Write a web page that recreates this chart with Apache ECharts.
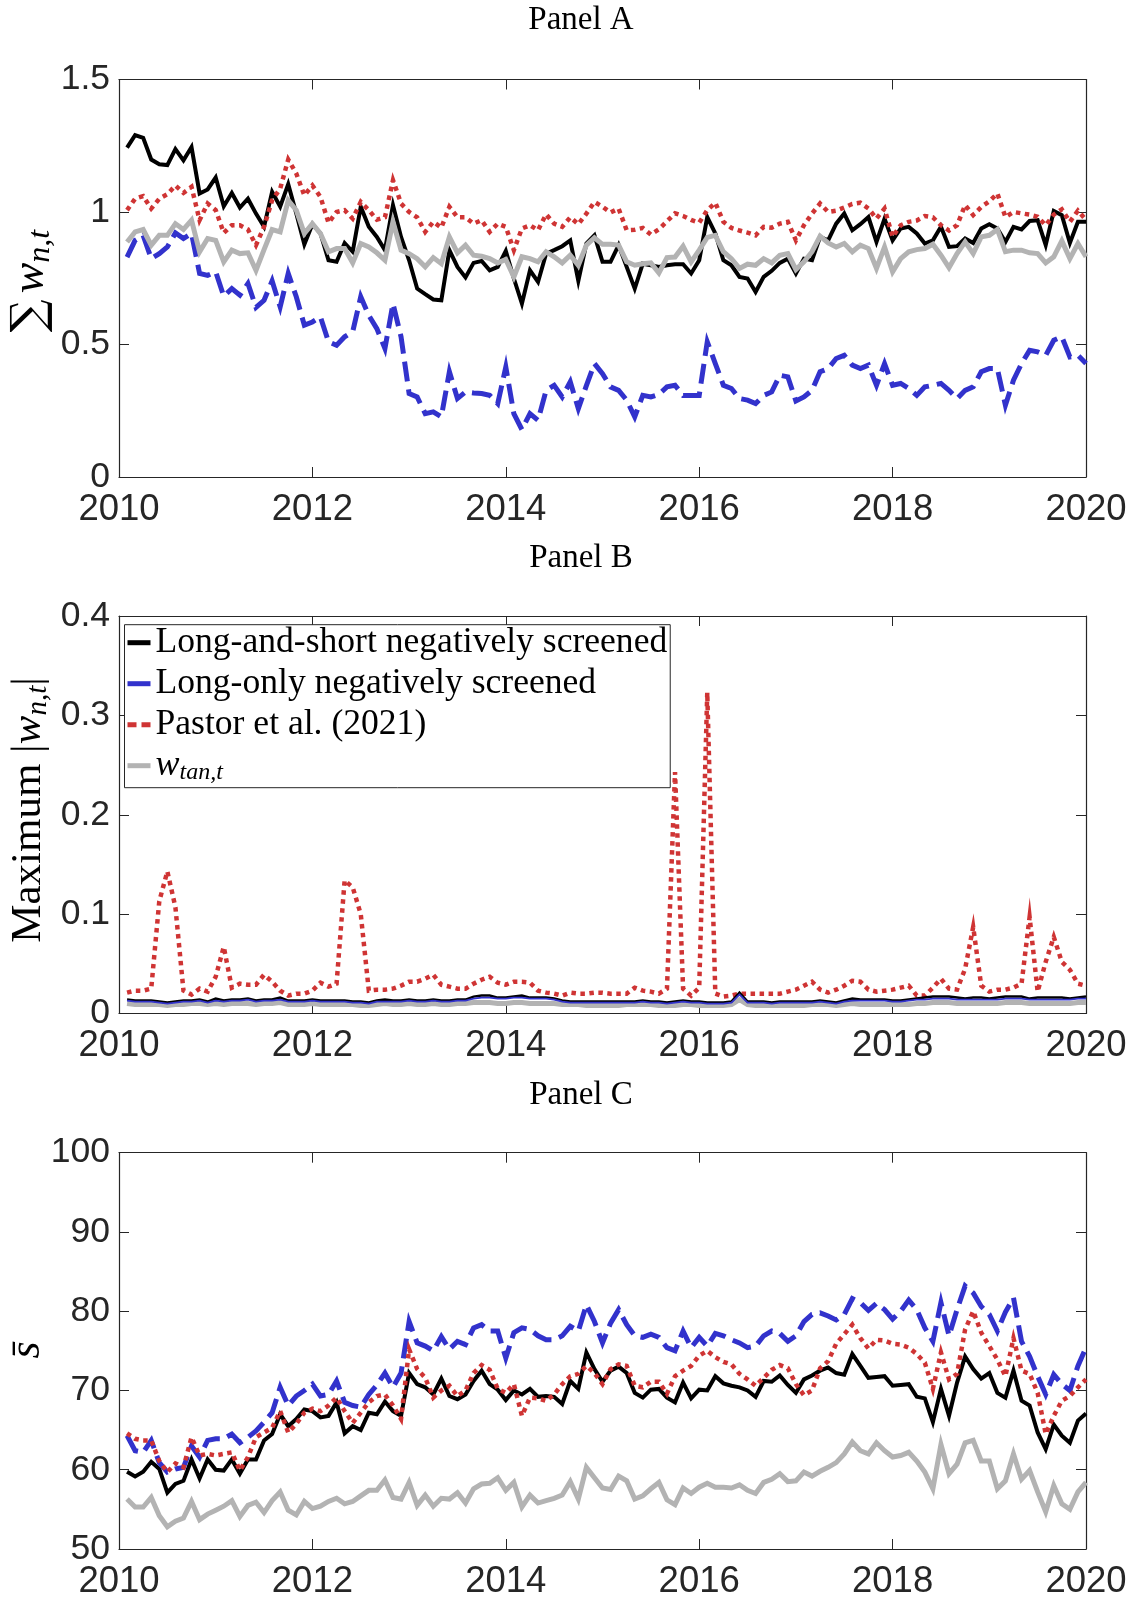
<!DOCTYPE html>
<html><head><meta charset="utf-8">
<script src="https://cdn.jsdelivr.net/npm/echarts@6/dist/echarts.min.js"></script>
<style>html,body{margin:0;padding:0;background:#fff}#c{width:1133px;height:1600px}</style>
</head><body><div id="c"></div>
<script>
// ---------- data (monthly, 2010 -> 2020) ----------
const startYear = 2010;
const seriesNames = ['Long-and-short negatively screened','Long-only negatively screened','Pastor et al. (2021)','w_tan,t'];
const panelTitles = ['Panel A','Panel B','Panel C'];
const xTickValues = [2010, 2012, 2014, 2016, 2018, 2020];

// Panel A: sum of weights
const aBlack = [1.243,1.29,1.28,1.198,1.18,1.177,1.237,1.195,1.245,1.07,
1.085,1.13,1.022,1.072,1.017,1.05,0.994,0.944,1.076,1.02,
1.105,0.994,0.878,0.954,0.919,0.818,0.812,0.883,0.85,1.02,
0.944,0.906,0.856,1.026,0.906,0.818,0.711,0.69,0.67,0.667,
0.856,0.793,0.753,0.808,0.815,0.78,0.793,0.853,0.749,0.654,
0.78,0.736,0.843,0.856,0.871,0.893,0.74,0.881,0.912,0.812,
0.812,0.875,0.793,0.711,0.805,0.799,0.793,0.799,0.803,0.803,
0.768,0.818,0.981,0.919,0.818,0.799,0.755,0.749,0.698,0.755,
0.778,0.808,0.824,0.768,0.824,0.818,0.906,0.893,0.956,0.994,
0.931,0.954,0.981,0.887,0.975,0.893,0.938,0.944,0.919,0.881,
0.893,0.944,0.868,0.871,0.9,0.883,0.938,0.954,0.938,0.887,
0.944,0.934,0.966,0.969,0.875,1.004,0.988,0.883,0.963,0.963];
const aBlue = [0.83,0.893,0.912,0.824,0.843,0.868,0.921,0.9,0.919,0.768,
0.761,0.774,0.682,0.711,0.686,0.73,0.64,0.667,0.74,0.642,
0.768,0.68,0.573,0.585,0.604,0.51,0.497,0.529,0.548,0.68,
0.61,0.56,0.485,0.654,0.529,0.315,0.302,0.239,0.246,0.227,
0.397,0.296,0.321,0.317,0.315,0.308,0.277,0.415,0.239,0.179,
0.239,0.214,0.327,0.346,0.302,0.359,0.258,0.345,0.428,0.39,
0.34,0.327,0.29,0.227,0.308,0.302,0.312,0.34,0.346,0.308,
0.308,0.308,0.51,0.428,0.346,0.334,0.296,0.29,0.277,0.308,
0.321,0.384,0.378,0.287,0.302,0.327,0.397,0.409,0.447,0.459,
0.422,0.409,0.422,0.346,0.428,0.346,0.353,0.334,0.308,0.34,
0.346,0.353,0.327,0.296,0.327,0.34,0.397,0.409,0.409,0.271,
0.365,0.428,0.478,0.472,0.459,0.516,0.529,0.453,0.459,0.428];
const aRed = [1.007,1.05,1.06,1.013,1.05,1.067,1.1,1.072,1.095,0.969,
1.032,1.007,0.921,0.95,0.95,0.934,0.875,0.944,1.044,1.088,
1.198,1.145,1.063,1.1,1.057,0.959,1.0,1.007,0.975,1.038,
1.007,0.971,0.98,1.12,1.032,1.0,0.98,0.925,0.963,0.941,
1.02,0.98,0.98,0.956,0.969,0.925,0.956,0.944,0.856,0.938,
0.95,0.931,0.991,0.956,0.944,0.98,0.954,0.994,1.038,1.02,
0.998,1.013,0.931,0.933,0.94,0.915,0.935,0.965,0.995,0.985,
0.97,0.96,1.007,1.035,0.963,0.94,0.93,0.922,0.912,0.944,
0.941,0.956,0.963,0.893,0.95,0.994,1.032,1.0,1.005,1.017,
1.03,1.035,1.013,0.975,1.013,0.906,0.95,0.963,0.968,0.985,
0.98,0.95,0.93,0.95,1.026,0.988,1.019,1.04,1.07,0.981,
1.0,0.995,0.99,0.982,0.95,0.99,1.01,0.963,1.005,0.97];
const aGray = [0.887,0.925,0.934,0.875,0.912,0.912,0.956,0.934,0.969,0.85,
0.9,0.893,0.812,0.856,0.843,0.846,0.78,0.858,0.934,0.925,
1.044,1.007,0.919,0.956,0.919,0.85,0.862,0.862,0.808,0.881,
0.868,0.846,0.818,0.963,0.856,0.843,0.824,0.793,0.828,0.805,
0.906,0.846,0.875,0.837,0.833,0.824,0.808,0.821,0.755,0.831,
0.824,0.812,0.85,0.831,0.808,0.837,0.799,0.875,0.903,0.878,
0.878,0.875,0.812,0.799,0.805,0.808,0.77,0.828,0.83,0.871,
0.812,0.856,0.904,0.912,0.85,0.824,0.787,0.803,0.799,0.824,
0.808,0.837,0.843,0.783,0.812,0.85,0.909,0.883,0.868,0.881,
0.85,0.875,0.862,0.787,0.868,0.774,0.824,0.85,0.858,0.862,
0.878,0.837,0.79,0.843,0.887,0.843,0.906,0.912,0.934,0.85,
0.856,0.856,0.846,0.843,0.808,0.831,0.891,0.824,0.881,0.831];

// Panel B: maximum absolute weight
const bBlack = [0.014,0.013,0.013,0.013,0.012,0.011,0.012,0.013,0.013,0.014,
0.012,0.015,0.013,0.014,0.014,0.015,0.013,0.014,0.014,0.016,
0.013,0.013,0.013,0.014,0.013,0.013,0.013,0.013,0.012,0.012,
0.011,0.013,0.014,0.013,0.013,0.014,0.013,0.013,0.014,0.013,
0.013,0.014,0.014,0.017,0.018,0.018,0.016,0.016,0.017,0.018,
0.016,0.016,0.016,0.015,0.013,0.012,0.012,0.012,0.012,0.012,
0.012,0.012,0.012,0.012,0.013,0.012,0.012,0.011,0.012,0.013,
0.012,0.012,0.011,0.011,0.011,0.012,0.021,0.012,0.012,0.012,
0.011,0.012,0.012,0.012,0.012,0.012,0.013,0.012,0.011,0.013,
0.015,0.014,0.014,0.014,0.014,0.013,0.013,0.014,0.015,0.016,
0.017,0.017,0.017,0.016,0.015,0.016,0.016,0.015,0.016,0.017,
0.017,0.017,0.015,0.016,0.016,0.016,0.016,0.015,0.016,0.017];
const bBlue = [0.013,0.012,0.012,0.012,0.011,0.010,0.011,0.012,0.012,0.013,
0.011,0.013,0.012,0.013,0.013,0.014,0.012,0.013,0.013,0.014,
0.012,0.012,0.012,0.013,0.012,0.012,0.012,0.012,0.011,0.011,
0.010,0.012,0.012,0.012,0.012,0.013,0.012,0.012,0.013,0.012,
0.012,0.013,0.013,0.015,0.016,0.016,0.015,0.015,0.016,0.016,
0.015,0.015,0.015,0.014,0.012,0.011,0.011,0.011,0.011,0.011,
0.011,0.011,0.011,0.011,0.012,0.011,0.011,0.010,0.011,0.012,
0.011,0.011,0.010,0.010,0.010,0.011,0.019,0.011,0.011,0.011,
0.010,0.011,0.011,0.011,0.011,0.011,0.012,0.011,0.010,0.012,
0.013,0.013,0.013,0.013,0.013,0.012,0.012,0.013,0.014,0.014,
0.015,0.015,0.015,0.014,0.014,0.014,0.014,0.014,0.014,0.015,
0.015,0.015,0.014,0.014,0.014,0.014,0.014,0.014,0.015,0.015];
const bRed = [0.021,0.023,0.023,0.025,0.113,0.143,0.107,0.023,0.019,0.025,
0.022,0.037,0.067,0.026,0.03,0.029,0.029,0.039,0.032,0.023,
0.018,0.02,0.02,0.023,0.031,0.027,0.03,0.134,0.127,0.1,
0.023,0.024,0.024,0.025,0.028,0.032,0.032,0.035,0.039,0.029,
0.027,0.025,0.025,0.03,0.034,0.037,0.031,0.029,0.032,0.032,
0.031,0.023,0.021,0.02,0.018,0.021,0.02,0.02,0.021,0.021,
0.02,0.02,0.02,0.026,0.023,0.022,0.02,0.025,0.243,0.025,
0.018,0.026,0.323,0.02,0.017,0.018,0.02,0.02,0.02,0.02,
0.02,0.02,0.022,0.024,0.028,0.032,0.024,0.021,0.024,0.028,
0.033,0.032,0.024,0.022,0.023,0.024,0.026,0.028,0.018,0.018,
0.026,0.035,0.025,0.024,0.045,0.087,0.028,0.022,0.024,0.024,
0.026,0.03,0.097,0.022,0.052,0.077,0.052,0.044,0.03,0.028];
const bGray = [0.010,0.009,0.009,0.009,0.009,0.008,0.009,0.009,0.010,0.010,
0.009,0.010,0.009,0.010,0.010,0.010,0.009,0.010,0.010,0.011,
0.009,0.009,0.009,0.010,0.009,0.009,0.009,0.009,0.009,0.008,
0.008,0.009,0.010,0.009,0.009,0.010,0.009,0.009,0.010,0.009,
0.009,0.010,0.010,0.011,0.011,0.011,0.010,0.010,0.011,0.011,
0.010,0.010,0.010,0.010,0.009,0.009,0.009,0.008,0.008,0.008,
0.008,0.008,0.009,0.009,0.009,0.009,0.008,0.008,0.008,0.009,
0.009,0.008,0.008,0.008,0.008,0.009,0.014,0.009,0.008,0.008,
0.008,0.008,0.008,0.008,0.008,0.009,0.009,0.009,0.008,0.009,
0.010,0.009,0.009,0.009,0.009,0.009,0.009,0.009,0.010,0.010,
0.011,0.011,0.011,0.010,0.010,0.010,0.010,0.010,0.010,0.011,
0.011,0.011,0.010,0.010,0.010,0.010,0.010,0.010,0.011,0.011];

// Panel C: average score s-bar
const cBlack = [59.75,59.16,59.75,61.0,60.1,57.1,58.2,58.6,61.3,58.9,
61.3,60.0,59.9,61.3,59.5,61.3,61.3,63.7,64.5,67.0,
65.5,66.4,67.6,67.4,66.6,66.8,68.5,64.6,65.5,65.0,
67.2,67.0,68.6,67.4,66.8,72.2,70.8,70.4,69.5,71.5,
69.3,68.9,69.5,71.2,72.5,70.8,70.1,68.8,70.0,69.5,
70.2,69.2,69.3,69.2,68.3,71.2,70.2,74.8,72.7,71.1,
72.5,73.0,72.2,69.7,69.1,70.1,70.2,69.1,68.5,71.0,
69.0,70.1,70.0,71.8,70.9,70.6,70.4,70.0,69.2,71.2,
71.1,71.9,70.7,69.7,71.4,71.9,72.5,72.9,72.2,72.0,
74.6,73.1,71.6,71.7,71.8,70.6,70.7,70.8,69.2,69.0,
66.0,70.2,66.8,71.0,74.3,72.7,71.5,72.2,69.7,69.1,
72.5,68.7,68.1,64.7,62.6,65.7,64.3,63.4,66.2,67.1];
const cBlue = [64.3,62.4,62.2,63.7,60.9,59.7,60.1,60.3,63.0,61.6,
63.7,63.9,63.9,64.5,63.4,64.1,64.9,66.0,67.2,70.4,
68.1,69.3,70.0,70.8,69.3,69.5,71.2,68.5,68.1,67.9,
69.5,70.7,72.2,70.4,72.2,78.7,76.0,75.6,75.0,76.8,
75.2,76.2,75.8,77.9,78.3,77.5,77.5,74.1,77.3,77.9,
77.7,76.9,76.4,76.4,76.9,78.1,77.5,80.8,78.7,76.0,
78.5,80.2,78.3,76.9,76.7,77.1,76.7,75.4,75.0,77.5,
75.4,76.7,75.6,77.2,76.9,76.4,76.0,75.4,75.6,76.9,
77.5,77.2,76.2,76.9,78.7,79.6,79.8,79.4,78.9,79.6,
81.6,81.1,80.1,81.0,80.2,79.0,80.0,81.4,80.2,77.9,
76.2,81.1,76.9,80.2,83.2,82.3,80.6,79.6,77.5,79.9,
81.7,76.2,74.3,71.8,69.5,72.0,70.8,70.0,73.1,75.4];
const cRed = [64.6,63.9,63.7,63.7,61.1,59.7,60.8,60.3,64.1,61.8,
62.0,61.8,62.0,62.2,59.9,61.6,64.1,64.7,65.3,67.4,
64.7,65.8,67.2,67.7,67.4,68.1,69.1,67.4,65.9,67.2,
68.5,69.3,69.5,68.1,66.4,75.2,72.7,71.6,69.1,70.0,
70.6,69.3,70.0,72.2,73.2,72.6,70.2,69.7,70.8,66.8,
69.1,69.0,68.7,69.5,70.8,71.8,72.1,73.1,72.2,70.8,
72.7,73.3,73.1,70.6,70.4,71.1,71.1,69.6,71.8,72.5,
73.1,74.4,75.0,74.2,73.6,73.3,72.1,71.4,70.6,71.6,
72.6,73.2,72.8,70.8,69.4,70.0,72.8,73.7,75.9,77.1,
78.3,76.6,75.3,76.4,76.3,75.9,75.8,75.4,74.6,73.5,
70.2,74.8,71.4,72.1,77.7,80.0,77.3,75.6,73.9,71.8,
76.6,72.5,72.1,69.7,64.5,66.8,68.7,69.3,70.4,71.4];
const cGray = [56.3,55.3,55.3,56.5,54.2,52.8,53.5,53.9,56.0,53.7,
54.4,54.9,55.4,56.1,54.1,55.5,55.9,54.6,56.1,57.2,
54.9,54.3,56.0,55.1,55.4,56.0,56.4,55.7,56.0,56.7,
57.4,57.4,58.7,56.5,56.3,58.4,55.5,56.8,55.4,56.4,
56.3,57.1,55.8,57.6,58.2,58.3,59.0,57.4,58.4,55.3,
56.8,55.8,56.1,56.4,56.8,58.5,56.3,60.3,59.0,57.7,
57.5,59.2,58.6,56.3,56.7,57.6,58.4,56.2,55.6,57.7,
57.0,57.8,58.3,57.8,57.8,57.7,58.1,57.4,57.0,58.4,
58.8,59.5,58.5,58.6,59.7,59.2,59.8,60.3,60.9,62.0,
63.5,62.4,62.0,63.4,62.4,61.6,61.8,62.2,61.1,59.7,
57.6,63.2,59.5,60.7,63.4,63.7,61.1,61.1,57.6,58.6,
62.0,58.8,59.9,57.2,54.7,58.0,55.7,55.0,57.2,58.4];

// ---------- chart ----------
const months = aBlack.map((_, i) => startYear + (i + 1) / 12);
const pair = arr => arr.map((v, i) => [months[i], v]);

const AX = '#262626';
const COL = {black:'#000000', blue:'#3232cc', red:'#cf3434', gray:'#b3b3b3'};
const gridTop = [79.5, 616, 1152.7];
const gridH = 397.5;
const yRanges = [{min:0,max:1.5,interval:0.5},{min:0,max:0.4,interval:0.1},{min:50,max:100,interval:10}];
const sans = 'Liberation Sans, Arial, sans-serif';

const grids = gridTop.map(t => ({left:119, width:967, top:t, height:gridH}));
const xAxes = [], yAxes = [];
[0,1,2].forEach(g => {
  xAxes.push({type:'value', gridIndex:g, min:2010, max:2020, interval:2, position:'bottom',
    axisLine:{show:true, onZero:false, lineStyle:{color:AX, width:1.2}},
    axisTick:{show:true, inside:true, length:10, lineStyle:{color:AX, width:1}},
    axisLabel:{show:true, fontSize:36.5, fontFamily:sans, color:AX, margin:14,
      formatter: v => String(v)},
    splitLine:{show:false}});
  yAxes.push(Object.assign({type:'value', gridIndex:g, position:'left',
    axisLine:{show:true, onZero:false, lineStyle:{color:AX, width:1.2}},
    axisTick:{show:true, inside:true, length:10, lineStyle:{color:AX, width:1}},
    axisLabel:{show:true, fontSize:35.5, fontFamily:sans, color:AX, margin:9},
    splitLine:{show:false}}, yRanges[g]));
});
[0,1,2].forEach(g => {
  xAxes.push({type:'value', gridIndex:g, min:2010, max:2020, interval:2, position:'top',
    axisLine:{show:true, onZero:false, lineStyle:{color:AX, width:1.2}},
    axisTick:{show:true, inside:true, length:10, lineStyle:{color:AX, width:1}},
    axisLabel:{show:false}, splitLine:{show:false}});
  yAxes.push(Object.assign({type:'value', gridIndex:g, position:'right',
    axisLine:{show:true, onZero:false, lineStyle:{color:AX, width:1.2}},
    axisTick:{show:true, inside:true, length:10, lineStyle:{color:AX, width:1}},
    axisLabel:{show:false}, splitLine:{show:false}}, yRanges[g]));
});

function line(name, data, g, color, width, type, z) {
  return {type:'line', name, xAxisIndex:g, yAxisIndex:g, data:pair(data), symbol:'none',
    showSymbol:false, clip:true, silent:true, animation:false, z:z,
    lineStyle:{color, width, type, cap:'butt', join:'miter'}, itemStyle:{color}};
}
const dashBlue = [20, 8], dotRed = [4.5, 4.5];
const series = [
  line(seriesNames[0], aBlack, 0, COL.black, 4, 'solid', 2),
  line(seriesNames[1], aBlue, 0, COL.blue, 5, dashBlue, 3),
  line(seriesNames[2], aRed, 0, COL.red, 4.5, dotRed, 4),
  line(seriesNames[3], aGray, 0, COL.gray, 5, 'solid', 5),
  line(seriesNames[3], bGray, 1, COL.gray, 5, 'solid', 2),
  line(seriesNames[2], bRed, 1, COL.red, 4.5, dotRed, 3),
  line(seriesNames[0], bBlack, 1, COL.black, 2.5, 'solid', 4),
  line(seriesNames[1], bBlue, 1, COL.blue, 1.8, 'solid', 5),
  line(seriesNames[0], cBlack, 2, COL.black, 4, 'solid', 2),
  line(seriesNames[1], cBlue, 2, COL.blue, 5, dashBlue, 3),
  line(seriesNames[2], cRed, 2, COL.red, 4.5, dotRed, 4),
  line(seriesNames[3], cGray, 2, COL.gray, 5, 'solid', 5)
];

const serif = 'Liberation Serif, Times New Roman, serif';
const legend = {
  show:true, orient:'vertical', left:124.5, top:624.7, selectedMode:false,
  backgroundColor:'#fff', borderColor:AX, borderWidth:1, borderRadius:0,
  padding:[0, 3, 3, 3], itemGap:5, itemWidth:23, itemHeight:5, symbolKeepAspect:false,
  textStyle:{fontFamily:serif, fontSize:35.6, color:'#000', lineHeight:36,
    rich:{w:{fontFamily:serif, fontStyle:'italic', fontSize:36, color:'#000'},
          s:{fontFamily:serif, fontStyle:'italic', fontSize:24, color:'#000', padding:[14,0,0,0]}}},
  formatter: n => n === seriesNames[3] ? '{w|w}{s|tan,t}' : n,
  data:[
    {name:seriesNames[0], icon:'rect', itemStyle:{color:COL.black}},
    {name:seriesNames[1], icon:'rect', itemStyle:{color:COL.blue}},
    {name:seriesNames[2], icon:'path://M0,0h9v5h-9z M14,0h9v5h-9z', itemStyle:{color:COL.red}},
    {name:seriesNames[3], icon:'rect', itemStyle:{color:COL.gray}}
  ]
};

const titleY = [20.4, 558, 1095];
const graphic = [];
panelTitles.forEach((t, i) => graphic.push({type:'text', x:581, y:titleY[i], silent:true,
  style:{text:t, fontFamily:serif, fontSize:33, fill:'#000', align:'center', verticalAlign:'middle'}}));
graphic.push({type:'text', x:31, y:281, rotation:Math.PI/2, silent:true,
  style:{text:'{g|\u2211}{w|w}{s|n,t}', align:'center', verticalAlign:'middle', fill:'#000',
    rich:{g:{fontFamily:'DejaVu Serif, serif', fontSize:46, fill:'#000', padding:[0,6,0,0]},
          w:{fontFamily:serif, fontStyle:'italic', fontSize:46, fill:'#000'},
          s:{fontFamily:serif, fontStyle:'italic', fontSize:32, fill:'#000', padding:[20,0,0,0]}}}});
graphic.push({type:'text', x:29, y:810, rotation:Math.PI/2, silent:true,
  style:{text:'{m|Maximum |}{w|w}{s|n,t}{m||}', align:'center', verticalAlign:'middle', fill:'#000',
    rich:{m:{fontFamily:serif, fontSize:43, fill:'#000'},
          w:{fontFamily:serif, fontStyle:'italic', fontSize:43, fill:'#000'},
          s:{fontFamily:serif, fontStyle:'italic', fontSize:29, fill:'#000', padding:[19,0,0,0]}}}});
graphic.push({type:'text', x:27, y:1350, rotation:Math.PI/2, silent:true,
  style:{text:'s\u0304', fontFamily:serif, fontStyle:'italic', fontSize:44, fill:'#000',
    align:'center', verticalAlign:'middle'}});

const chart = echarts.init(document.getElementById('c'), null, {renderer:'canvas'});
chart.setOption({animation:false, backgroundColor:'#fff', grid:grids, xAxis:xAxes, yAxis:yAxes,
  series, legend, graphic});
</script></body></html>
